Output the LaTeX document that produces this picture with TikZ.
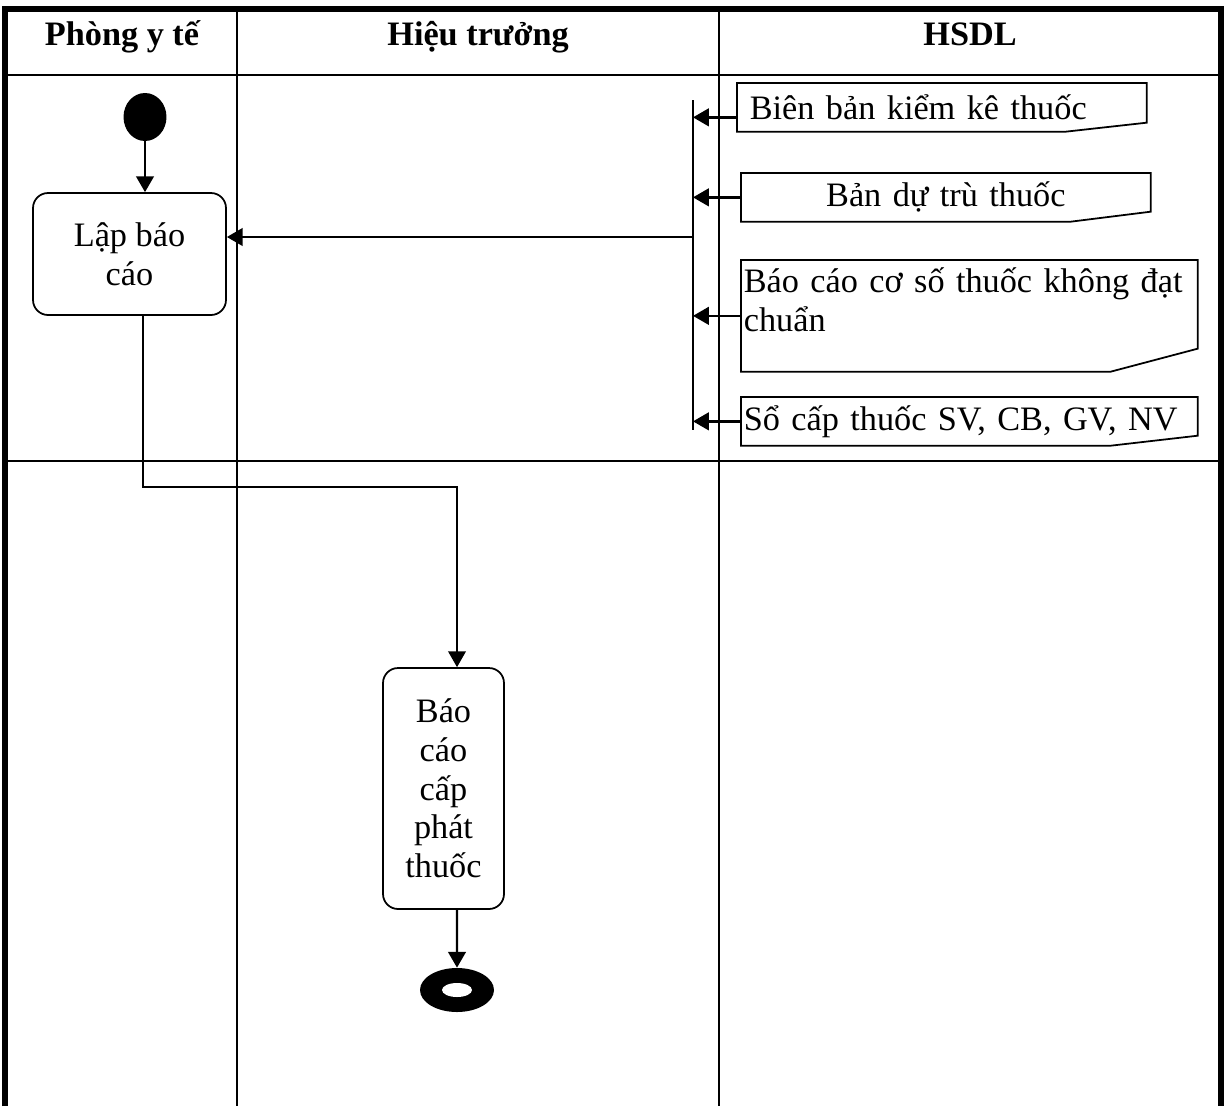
\documentclass[tikz,border=0pt]{standalone}
\usepackage{fontspec}
\setmainfont{Liberation Serif}
\usetikzlibrary{arrows.meta,shapes.geometric,calc}

\newcommand{\DocEdge}[3]{%
  \draw[docedge] (#1.north west) -- (#1.north east) -- ([yshift=#3]#1.south east)
    -- ([xshift=-#2]#1.south east) -- (#1.south west) -- cycle;}

\begin{document}
\begin{tikzpicture}[x=0.02cm,y=-0.02cm,
  font=\fontsize{19.5}{22}\selectfont,
  frame/.style={line width=3pt},
  lane/.style={line width=0.8pt},
  head/.style={anchor=base,font=\fontsize{19.5}{22}\selectfont\bfseries},
  act/.style={draw,line width=1pt,rounded corners=0.3cm,align=center,inner sep=0pt},
  docbox/.style={anchor=north west,inner ysep=0pt,inner xsep=0.05cm,align=left,minimum height=0.96cm},
  docedge/.style={line width=1pt},
  flow/.style={line width=1.4pt,-{Triangle[length=9pt,width=10pt]}}]

\useasboundingbox (0,0) rectangle (1226,1106);

% lanes
\draw[frame] (5,1106) -- (5,9) -- (1221,9) -- (1221,1106);
\draw[lane] (5,75) -- (1221,75) (5,461) -- (1221,461)
  (237,9) -- (237,1106) (719,9) -- (719,1106);

\node[head] (h1) at (122,45) {Phòng y tế};
\node[head] (h2) at (478,45) {Hiệu trưởng};
\node[head] (h3) at (970,45) {HSDL};

% activities
\node[ellipse,fill=black,inner sep=0pt,minimum width=0.86cm,minimum height=0.96cm] (start) at (145,117) {};
\node[act,minimum width=3.86cm,minimum height=2.44cm] (lap) at (129.5,254) {Lập báo\\cáo};
\node[act,minimum width=2.42cm,minimum height=4.82cm] (bao) at (443.5,788.5) {Báo\\cáo\\cấp\\phát\\thuốc};
\node[ellipse,fill=black,inner sep=0pt,minimum width=1.48cm,minimum height=0.88cm,
  path picture={\fill[white] (path picture bounding box.center) ellipse (0.3cm and 0.14cm);}] (stop) at (457,990) {};

% documents
\node[docbox,text width=7.68cm,inner xsep=0.25cm] (d1) at (737,83) {Biên bản kiểm kê thuốc};
\node[docbox,text width=8.08cm,align=center] (d2) at (741,173) {Bản dự trù thuốc};
\node[docbox,text width=9.02cm,text height=0.64cm,text depth=1.58cm] (d3) at (741,260) {Báo cáo cơ số thuốc không đạt\\chuẩn};
\node[docbox,text width=9.02cm] (d4) at (741,397) {\mbox{Sổ cấp thuốc SV, CB, GV, NV}};

\DocEdge{d1}{1.62cm}{0.18cm}
\DocEdge{d2}{1.6cm}{0.2cm}
\DocEdge{d3}{1.74cm}{0.46cm}
\DocEdge{d4}{1.74cm}{0.2cm}

% fork
\coordinate (fk1) at (693,100);
\coordinate (fk2) at (693,430);
\coordinate (fk) at (693,237);
\coordinate (a1) at ([yshift=-0.2cm]d1.west);
\coordinate (bend) at (457,487);
\draw[line width=1.3pt] (fk1) -- (fk2);
\draw[flow] (a1) -- (a1 -| fk);
\foreach \d in {d2,d3,d4}
  \draw[flow] (\d.west) -- (\d.west -| fk);

\draw[flow] (fk) -- (fk -| lap.east);
\draw[flow] (start.south) -- (start.south |- lap.north);
\draw[flow,line width=1pt] ([xshift=0.27cm]lap.south) |- (bend) -- (bend |- bao.north);
\draw[flow] ([xshift=0.27cm]bao.south) -- (stop.north);

\end{tikzpicture}
\end{document}
